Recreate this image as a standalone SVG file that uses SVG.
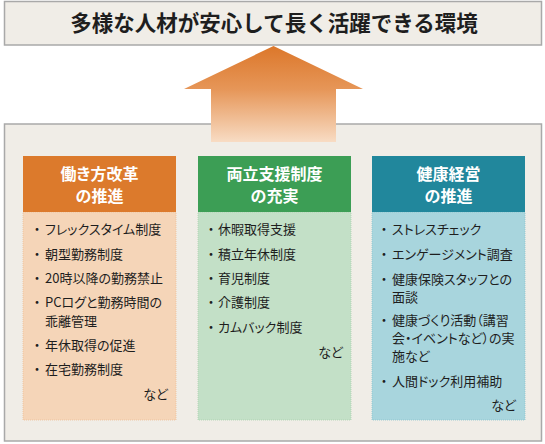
<svg xmlns="http://www.w3.org/2000/svg" width="545" height="444" viewBox="0 0 545 444">
<defs>
<linearGradient id="arrowGrad" x1="0" y1="46" x2="0" y2="142" gradientUnits="userSpaceOnUse">
<stop offset="0" stop-color="#dc772a"/>
<stop offset="0.45" stop-color="#e69658"/>
<stop offset="1" stop-color="#f8dcc4"/>
</linearGradient>
<style>
text{font-family:"Noto Sans CJK JP","Noto Sans",sans-serif;font-feature-settings:"palt"}
.frame{fill:#f0ede7;stroke:#a9a9a9;stroke-width:1.5}
.title{font-size:21.5px;font-weight:bold;fill:#1e1e1e;text-anchor:middle;font-feature-settings:normal}
.head{font-size:16px;font-weight:bold;fill:#ffffff;text-anchor:middle}
.item{font-size:13px;fill:#1e1e1e}
.dot{font-size:13px;fill:#1e1e1e;text-anchor:middle}
.etc{font-size:13px;fill:#1e1e1e;text-anchor:end}
.body{stroke-width:0.8;stroke-dasharray:1 1}
</style>
</defs>
<g id="goal">
<rect class="frame" x="4.5" y="1.5" width="537" height="43.5"/>
<text class="title" x="274" y="30.5">多様な人材が安心して長く活躍できる環境</text>
</g>
<g id="base">
<rect class="frame" x="4.5" y="124" width="537" height="317"/>
</g>
<g id="connectors">
<polygon points="273.5,46 363,89 336,89 336,142 211,142 211,89 184,89" fill="url(#arrowGrad)"/>
</g>
<g id="workstyle">
<rect x="23" y="212" width="153" height="208" fill="#f5d5b8" class="body" stroke="#eebf98"/>
<rect x="23" y="156" width="153" height="56" fill="#dc7a2c"/>
<text class="head" x="99.5" y="180">働き方改革</text>
<text class="head" x="99.5" y="202">の推進</text>
<text class="dot" x="37" y="234">・</text><text class="item" x="45" y="234">フレックスタイム制度</text>
<text class="dot" x="37" y="259">・</text><text class="item" x="45" y="259">朝型勤務制度</text>
<text class="dot" x="37" y="283">・</text><text class="item" x="45" y="283">20時以降の勤務禁止</text>
<text class="dot" x="37" y="307">・</text><text class="item" x="45" y="307">PCログと勤務時間の</text>
<text class="item" x="45" y="326">乖離管理</text>
<text class="dot" x="37" y="350">・</text><text class="item" x="45" y="350">年休取得の促進</text>
<text class="dot" x="37" y="374">・</text><text class="item" x="45" y="374">在宅勤務制度</text>
<text class="etc" x="168" y="399">など</text>
</g>
<g id="support">
<rect x="198" y="212" width="153" height="208" fill="#c3e0c7" class="body" stroke="#a9d2af"/>
<rect x="198" y="156" width="153" height="56" fill="#3c9e55"/>
<text class="head" x="274.5" y="180">両立支援制度</text>
<text class="head" x="274.5" y="202">の充実</text>
<text class="dot" x="211" y="234">・</text><text class="item" x="218" y="234">休暇取得支援</text>
<text class="dot" x="211" y="259">・</text><text class="item" x="218" y="259">積立年休制度</text>
<text class="dot" x="211" y="283">・</text><text class="item" x="218" y="283">育児制度</text>
<text class="dot" x="211" y="307">・</text><text class="item" x="218" y="307">介護制度</text>
<text class="dot" x="211" y="332">・</text><text class="item" x="218" y="332">カムバック制度</text>
<text class="etc" x="343" y="357">など</text>
</g>
<g id="health">
<rect x="372" y="212" width="153" height="208" fill="#a8d5dd" class="body" stroke="#8cc4ce"/>
<rect x="372" y="156" width="153" height="56" fill="#21879c"/>
<text class="head" x="448.5" y="180">健康経営</text>
<text class="head" x="448.5" y="202">の推進</text>
<text class="dot" x="384" y="234">・</text><text class="item" x="392" y="234">ストレスチェック</text>
<text class="dot" x="384" y="259">・</text><text class="item" x="392" y="259">エンゲージメント調査</text>
<text class="dot" x="384" y="284">・</text><text class="item" x="392" y="284">健康保険スタッフとの</text>
<text class="item" x="392" y="302">面談</text>
<text class="dot" x="384" y="325">・</text><text class="item" x="392" y="325">健康づくり活動（講習</text>
<text class="item" x="392" y="343">会・イベントなど）の実</text>
<text class="item" x="392" y="361">施など</text>
<text class="dot" x="384" y="386">・</text><text class="item" x="392" y="386">人間ドック利用補助</text>
<text class="etc" x="516" y="410">など</text>
</g>
</svg>
